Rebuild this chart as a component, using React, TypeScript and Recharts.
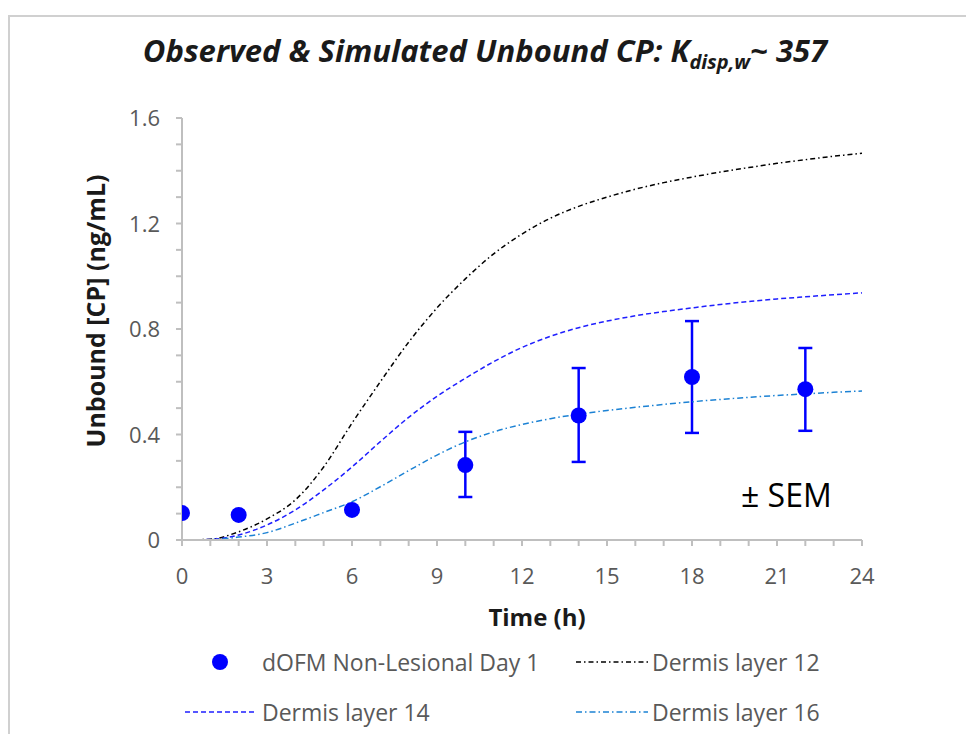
import React from 'react';
import {
  ComposedChart,
  Line,
  Scatter,
  ErrorBar,
  XAxis,
  YAxis,
} from 'recharts';

// simulated profiles, hourly
const hours = [0, 1, 2, 3, 4, 5, 6, 7, 8, 9, 10, 11, 12, 13, 14, 15, 16, 17, 18, 19, 20, 21, 22, 23, 24];
const layer12 = [0, 0.003, 0.031, 0.08, 0.152, 0.277, 0.443, 0.6, 0.75, 0.88, 0.99, 1.085, 1.16, 1.22, 1.265, 1.3, 1.33, 1.355, 1.376, 1.395, 1.412, 1.428, 1.442, 1.455, 1.466];
const layer14 = [0, 0.002, 0.019, 0.057, 0.114, 0.19, 0.277, 0.373, 0.465, 0.545, 0.613, 0.676, 0.73, 0.772, 0.805, 0.83, 0.85, 0.866, 0.88, 0.893, 0.904, 0.914, 0.922, 0.93, 0.937];
const layer16 = [0, 0.001, 0.011, 0.028, 0.064, 0.104, 0.145, 0.202, 0.263, 0.322, 0.372, 0.41, 0.438, 0.46, 0.477, 0.491, 0.503, 0.514, 0.524, 0.533, 0.541, 0.548, 0.554, 0.56, 0.565];

// observed dOFM (first three samples without SEM bars)
const obsTimeNoErr = [0, 2, 6];
const obsConcNoErr = [0.102, 0.095, 0.114];
const obsTime = [10, 14, 18, 22];
const obsConc = [0.284, 0.472, 0.618, 0.572];
const obsErrLow = [0.121, 0.176, 0.212, 0.158];
const obsErrHigh = [0.126, 0.18, 0.212, 0.156];

const xTicks = [0, 1, 2, 3, 4, 5, 6, 7, 8, 9, 10, 11, 12, 13, 14, 15, 16, 17, 18, 19, 20, 21, 22, 23, 24];
const yTicks = [0, 0.1, 0.2, 0.3, 0.4, 0.5, 0.6, 0.7, 0.8, 0.9, 1.0, 1.1, 1.2, 1.3, 1.4, 1.5, 1.6];
const yLabels = ['0', '0.4', '0.8', '1.2', '1.6'];

const simData = hours.map((t, i) => ({ t, l12: layer12[i], l14: layer14[i], l16: layer16[i] }));
const obsDataNoErr = obsTimeNoErr.map((t, i) => ({ t, y: obsConcNoErr[i] }));
const obsData = obsTime.map((t, i) => ({ t, y: obsConc[i], err: [obsErrLow[i], obsErrHigh[i]] }));

const FONT = '"Open Sans", sans-serif';
const TICK_COLOR = '#595959';
const AXIS_COLOR = '#bfbfbf';
const TITLE_COLOR = '#1a1a1a';

const DASH12 = '5 3 1.5 3';
const DASH14 = '5 3';
const DASH16 = '6 3 1.5 3';

const XTick = (p: any) => {
  const v = p.payload.value;
  if (v % 3 !== 0) return null;
  return (
    <text x={p.x} y={p.y + 36} textAnchor="middle" fill={TICK_COLOR} fontSize={22} fontFamily={FONT}>
      {v}
    </text>
  );
};

const YTick = (p: any) => {
  const v = Math.round(p.payload.value * 10);
  if (v % 4 !== 0) return null;
  return (
    <text x={p.x} y={p.y + 8} textAnchor="end" fill={TICK_COLOR} fontSize={22} fontFamily={FONT}>
      {yLabels[v / 4]}
    </text>
  );
};

const Dot = (p: any) => <circle cx={p.cx} cy={p.cy} r={8} fill="#0000ff" />;

const legendText: React.CSSProperties = {
  position: 'absolute',
  fontFamily: FONT,
  fontSize: 23,
  color: TICK_COLOR,
  lineHeight: '24px',
  whiteSpace: 'nowrap',
};

function LineSample({ color, dash }: { color: string; dash: string }) {
  return (
    <svg width={72} height={4} style={{ display: 'block' }}>
      <line x1={0} y1={2} x2={72} y2={2} stroke={color} strokeWidth={1.5} strokeDasharray={dash} />
    </svg>
  );
}

export default function App() {
  return (
    <div style={{ position: 'absolute', left: 0, top: 0, width: 966, height: 734, background: '#fff', overflow: 'hidden' }}>
      <div style={{ position: 'absolute', left: 8, top: 15, width: 980, height: 740, borderLeft: '2px solid #d0d0d0', borderTop: '2px solid #d0d0d0' }} />
      <div
        style={{
          position: 'absolute',
          left: 0,
          width: 970,
          top: 35,
          lineHeight: '31px',
          textAlign: 'center',
          fontFamily: FONT,
          fontWeight: 700,
          fontStyle: 'italic',
          fontSize: 31,
          color: TITLE_COLOR,
          whiteSpace: 'nowrap',
        }}
      >
        Observed &amp; Simulated Unbound CP: K<sub style={{ fontSize: 20, lineHeight: 0 }}>disp,w</sub>~ 357
      </div>

      <ComposedChart
        width={966}
        height={734}
        margin={{ top: 118, right: 104, bottom: 134, left: 0 }}
        style={{ position: 'absolute', left: 0, top: 0 }}
      >
        <XAxis
          type="number"
          dataKey="t"
          domain={[0, 24]}
          ticks={xTicks}
          interval={0}
          height={60}
          tick={<XTick />}
          tickSize={6}
          stroke={AXIS_COLOR}
          strokeWidth={2}
          allowDataOverflow
        />
        <YAxis
          type="number"
          domain={[0, 1.6]}
          ticks={yTicks}
          interval={0}
          width={182}
          tick={<YTick />}
          tickSize={6}
          tickMargin={16}
          stroke={AXIS_COLOR}
          strokeWidth={2}
        />
        <Scatter data={obsDataNoErr} dataKey="y" shape={<Dot />} isAnimationActive={false} />
        <Scatter data={obsData} dataKey="y" shape={<Dot />} isAnimationActive={false}>
          <ErrorBar dataKey="err" direction="y" width={7} stroke="#0000ff" strokeWidth={2.5} />
        </Scatter>
        <Line data={simData} dataKey="l12" type="monotone" stroke="#000000" strokeWidth={1.5} strokeDasharray={DASH12} dot={false} isAnimationActive={false} />
        <Line data={simData} dataKey="l14" type="monotone" stroke="#1f1fff" strokeWidth={1.5} strokeDasharray={DASH14} dot={false} isAnimationActive={false} />
        <Line data={simData} dataKey="l16" type="monotone" stroke="#1c82d4" strokeWidth={1.5} strokeDasharray={DASH16} dot={false} isAnimationActive={false} />
      </ComposedChart>

      {/* y-axis title */}
      <div
        style={{
          position: 'absolute',
          left: 95 - 160,
          top: 311 - 15,
          width: 320,
          lineHeight: '30px',
          textAlign: 'center',
          transform: 'rotate(-90deg)',
          fontFamily: FONT,
          fontWeight: 700,
          fontSize: 25,
          color: TITLE_COLOR,
          whiteSpace: 'nowrap',
        }}
      >
        Unbound [CP] (ng/mL)
      </div>

      <div style={{ position: 'absolute', left: 741, top: 479, lineHeight: '32px', fontFamily: FONT, fontSize: 32, color: '#000', whiteSpace: 'nowrap' }}>
        ± SEM
      </div>

      <div
        style={{
          position: 'absolute',
          left: 437,
          width: 200,
          top: 605,
          lineHeight: '24px',
          textAlign: 'center',
          fontFamily: FONT,
          fontWeight: 700,
          fontSize: 24,
          color: TITLE_COLOR,
        }}
      >
        Time (h)
      </div>

      {/* legend */}
      <svg width={20} height={20} style={{ position: 'absolute', left: 210, top: 652 }}>
        <circle cx={10} cy={10} r={8} fill="#0000ff" />
      </svg>
      <div style={{ ...legendText, left: 262, top: 650 }}>dOFM Non-Lesional Day 1</div>
      <div style={{ position: 'absolute', left: 576, top: 660 }}>
        <LineSample color="#000000" dash={DASH12} />
      </div>
      <div style={{ ...legendText, left: 652, top: 650 }}>Dermis layer 12</div>
      <div style={{ position: 'absolute', left: 185, top: 710 }}>
        <LineSample color="#1f1fff" dash={DASH14} />
      </div>
      <div style={{ ...legendText, left: 262, top: 700 }}>Dermis layer 14</div>
      <div style={{ position: 'absolute', left: 576, top: 710 }}>
        <LineSample color="#1c82d4" dash={DASH16} />
      </div>
      <div style={{ ...legendText, left: 652, top: 700 }}>Dermis layer 16</div>
    </div>
  );
}
